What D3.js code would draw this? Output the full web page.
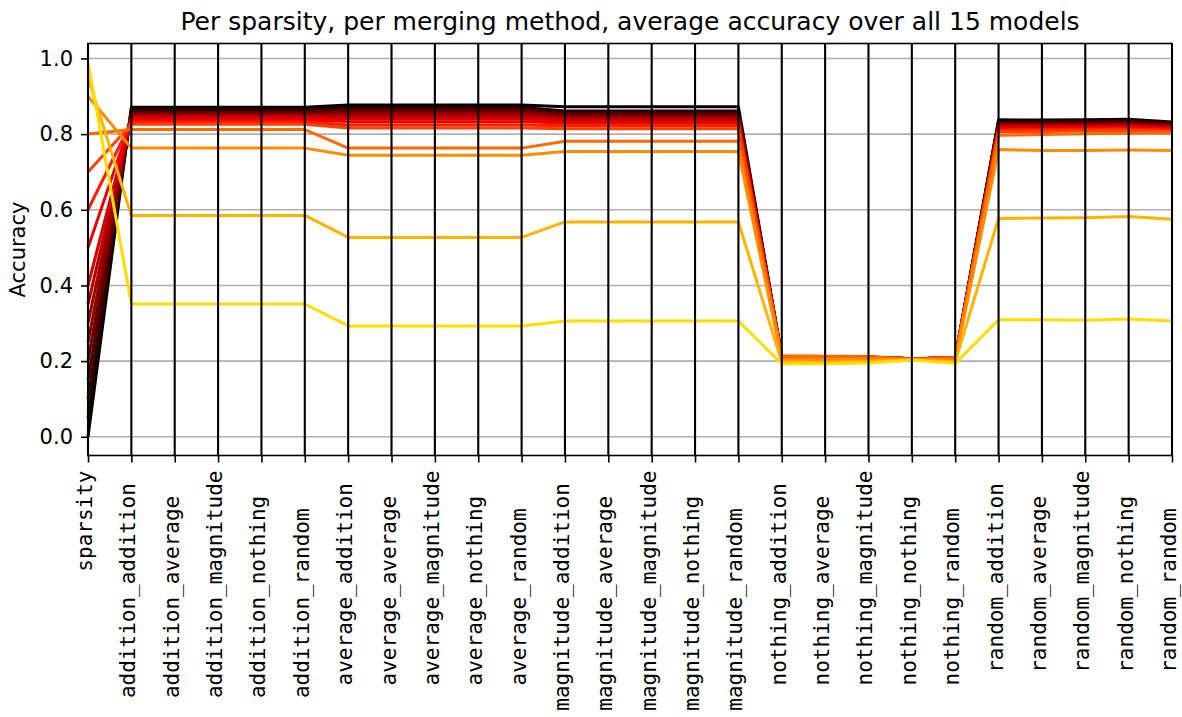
<!DOCTYPE html>
<html>
<head>
<meta charset="utf-8">
<script src="https://cdn.jsdelivr.net/npm/d3@7"></script>
<style>
  body { margin: 0; background: #ffffff; }
  svg { display: block; }
  text { fill: #000; }
</style>
</head>
<body>
<svg id="chart" width="1182" height="717"></svg>
<script>
// Merge methods combined pairwise into the evaluated configurations
const mergeMethods = ["addition", "average", "magnitude", "nothing", "random"];

const columns = [
  "sparsity",
  "addition_addition", "addition_average", "addition_magnitude", "addition_nothing", "addition_random",
  "average_addition", "average_average", "average_magnitude", "average_nothing", "average_random",
  "magnitude_addition", "magnitude_average", "magnitude_magnitude", "magnitude_nothing", "magnitude_random",
  "nothing_addition", "nothing_average", "nothing_magnitude", "nothing_nothing", "nothing_random",
  "random_addition", "random_average", "random_magnitude", "random_nothing", "random_random"
];

const yTicks = [0.0, 0.2, 0.4, 0.6, 0.8, 1.0];

// Sparsity levels (one line each)
const sparsity = [0.0, 0.05, 0.1, 0.15, 0.2, 0.25, 0.3, 0.35, 0.4, 0.5, 0.6, 0.7, 0.8, 0.9, 0.95, 0.99];

// Average accuracy per configuration (same order as columns, without "sparsity")
const acc_000 = [0.871,0.871,0.871,0.871,0.871, 0.877,0.877,0.877,0.877,0.877, 0.872,0.872,0.872,0.872,0.872, 0.212,0.211,0.210,0.206,0.208, 0.838,0.837,0.838,0.839,0.832];
const acc_005 = [0.866,0.866,0.866,0.866,0.866, 0.871,0.871,0.871,0.871,0.871, 0.861,0.861,0.861,0.861,0.861, 0.212,0.211,0.210,0.206,0.208, 0.834,0.834,0.835,0.836,0.830];
const acc_010 = [0.862,0.862,0.862,0.862,0.862, 0.867,0.867,0.867,0.867,0.867, 0.857,0.857,0.857,0.857,0.857, 0.212,0.211,0.210,0.206,0.208, 0.831,0.832,0.832,0.833,0.828];
const acc_015 = [0.858,0.858,0.858,0.858,0.858, 0.863,0.863,0.863,0.863,0.863, 0.853,0.853,0.853,0.853,0.853, 0.212,0.211,0.210,0.206,0.208, 0.829,0.829,0.830,0.831,0.826];
const acc_020 = [0.855,0.855,0.855,0.855,0.855, 0.859,0.859,0.859,0.859,0.859, 0.849,0.849,0.849,0.849,0.849, 0.212,0.211,0.210,0.206,0.208, 0.826,0.827,0.828,0.829,0.824];
const acc_025 = [0.851,0.851,0.851,0.851,0.851, 0.855,0.855,0.855,0.855,0.855, 0.845,0.845,0.845,0.845,0.845, 0.212,0.211,0.210,0.206,0.208, 0.824,0.825,0.825,0.826,0.822];
const acc_030 = [0.848,0.848,0.848,0.848,0.848, 0.850,0.850,0.850,0.850,0.850, 0.842,0.842,0.842,0.842,0.842, 0.212,0.211,0.210,0.206,0.208, 0.822,0.822,0.823,0.824,0.820];
const acc_035 = [0.845,0.845,0.845,0.845,0.845, 0.845,0.845,0.845,0.845,0.845, 0.838,0.838,0.838,0.838,0.838, 0.212,0.211,0.210,0.206,0.208, 0.820,0.820,0.821,0.822,0.818];
const acc_040 = [0.842,0.842,0.842,0.842,0.842, 0.840,0.840,0.840,0.840,0.840, 0.834,0.834,0.834,0.834,0.834, 0.212,0.211,0.210,0.206,0.208, 0.817,0.818,0.819,0.820,0.816];
const acc_050 = [0.837,0.837,0.837,0.837,0.837, 0.833,0.833,0.833,0.833,0.833, 0.829,0.829,0.829,0.829,0.829, 0.212,0.211,0.210,0.206,0.208, 0.814,0.815,0.816,0.817,0.813];
const acc_060 = [0.832,0.832,0.832,0.832,0.832, 0.824,0.824,0.824,0.824,0.824, 0.822,0.822,0.822,0.822,0.822, 0.213,0.212,0.211,0.206,0.209, 0.811,0.812,0.813,0.814,0.810];
const acc_070 = [0.826,0.826,0.826,0.826,0.826, 0.816,0.816,0.816,0.816,0.816, 0.814,0.814,0.814,0.814,0.814, 0.214,0.213,0.212,0.206,0.210, 0.806,0.807,0.809,0.810,0.807];
const acc_080 = [0.812,0.812,0.812,0.812,0.812, 0.763,0.763,0.763,0.763,0.763, 0.781,0.781,0.781,0.781,0.781, 0.213,0.212,0.211,0.205,0.208, 0.797,0.799,0.801,0.802,0.803];
const acc_090 = [0.763,0.763,0.763,0.763,0.763, 0.744,0.744,0.744,0.744,0.744, 0.754,0.754,0.754,0.754,0.754, 0.205,0.204,0.205,0.204,0.202, 0.759,0.757,0.757,0.758,0.757];
const acc_095 = [0.585,0.585,0.585,0.585,0.585, 0.527,0.527,0.527,0.527,0.527, 0.568,0.568,0.568,0.568,0.568, 0.197,0.197,0.199,0.203,0.198, 0.577,0.578,0.579,0.582,0.575];
const acc_099 = [0.351,0.351,0.351,0.351,0.351, 0.293,0.293,0.293,0.293,0.293, 0.306,0.306,0.306,0.306,0.306, 0.193,0.193,0.195,0.203,0.194, 0.309,0.309,0.308,0.311,0.306];

const accuracy = [acc_000, acc_005, acc_010, acc_015, acc_020, acc_025, acc_030, acc_035,
                  acc_040, acc_050, acc_060, acc_070, acc_080, acc_090, acc_095, acc_099];

// Line colour per sparsity level (dark → red → orange → yellow)
const lineColors = ["#000000", "#1c0000", "#370000", "#520000", "#6d0000", "#880000", "#a30000", "#be0000",
                    "#d80000", "#f00000", "#ff1a00", "#ff4000", "#ff6a00", "#ff8c00", "#ffb300", "#ffdd00"];

// ---------------------------------------------------------------------------
const svg = d3.select("#chart");
const margin = { left: 88, right: 1172, top: 43.5, bottom: 455.5 };

const x = d3.scalePoint().domain(columns).range([margin.left, margin.right]).padding(0);
const y = d3.scaleLinear().domain([-0.0495, 1.0395]).range([margin.bottom, margin.top]);

// horizontal grid
svg.append("g")
  .selectAll("line")
  .data(yTicks)
  .join("line")
  .attr("x1", margin.left).attr("x2", margin.right)
  .attr("y1", d => y(d)).attr("y2", d => y(d))
  .attr("stroke", "#b0b0b0").attr("stroke-width", 1.6);

// one polyline per sparsity level
const rows = sparsity.map((s, i) => ({
  color: lineColors[i],
  values: [s].concat(accuracy[i])
}));

const line = d3.line()
  .x((d, j) => x(columns[j]))
  .y(d => y(d));

svg.append("g")
  .selectAll("path")
  .data(rows)
  .join("path")
  .attr("d", d => line(d.values))
  .attr("fill", "none")
  .attr("stroke", d => d.color)
  .attr("stroke-width", 3)
  .attr("stroke-linejoin", "round");

// vertical axis line for each column
svg.append("g")
  .selectAll("line")
  .data(columns)
  .join("line")
  .attr("x1", d => x(d)).attr("x2", d => x(d))
  .attr("y1", margin.top).attr("y2", margin.bottom)
  .attr("stroke", "#000").attr("stroke-width", 2.1);

// frame
svg.append("rect")
  .attr("x", margin.left).attr("y", margin.top)
  .attr("width", margin.right - margin.left)
  .attr("height", margin.bottom - margin.top)
  .attr("fill", "none").attr("stroke", "#000").attr("stroke-width", 1.6);

// y axis
const yAxis = svg.append("g")
  .attr("transform", `translate(${margin.left},0)`)
  .call(d3.axisLeft(y).tickValues(yTicks).tickFormat(d3.format(".1f")).tickSize(7).tickPadding(8));
yAxis.select(".domain").remove();
yAxis.selectAll(".tick line").attr("stroke", "#000").attr("stroke-width", 1.6);
yAxis.selectAll(".tick text")
  .attr("font-family", "DejaVu Sans, sans-serif")
  .attr("font-size", 21)
  .attr("fill", "#000");

// x axis ticks
const xAxis = svg.append("g")
  .attr("transform", `translate(0,${margin.bottom})`)
  .call(d3.axisBottom(x).tickSize(7).tickFormat(""));
xAxis.select(".domain").remove();
xAxis.selectAll(".tick line").attr("stroke", "#000").attr("stroke-width", 1.6);

// rotated column labels; pair names are padded so the underscores line up
const tickLabel = c => {
  const parts = c.split("_");
  if (parts.length < 2) return c;
  const w = d3.max(mergeMethods, m => m.length);
  return parts[0].padStart(w, " ") + "_" + parts[1].padEnd(w, " ");
};

svg.append("g")
  .selectAll("text")
  .data(columns)
  .join("text")
  .attr("transform", d => `translate(${x(d)},${margin.bottom + 15}) rotate(-90)`)
  .attr("text-anchor", "end")
  .attr("dy", 4)
  .attr("xml:space", "preserve")
  .style("white-space", "pre")
  .attr("font-family", "DejaVu Sans Mono, monospace")
  .attr("font-size", 21)
  .text(d => tickLabel(d));

// y label
svg.append("text")
  .attr("transform", `translate(25,${(margin.top + margin.bottom) / 2}) rotate(-90)`)
  .attr("text-anchor", "middle")
  .attr("font-family", "DejaVu Sans, sans-serif")
  .attr("font-size", 21)
  .text("Accuracy");

// title
svg.append("text")
  .attr("x", (margin.left + margin.right) / 2)
  .attr("y", 30)
  .attr("text-anchor", "middle")
  .attr("font-family", "DejaVu Sans, sans-serif")
  .attr("font-size", 25)
  .text("Per sparsity, per merging method, average accuracy over all 15 models");
</script>
</body>
</html>
